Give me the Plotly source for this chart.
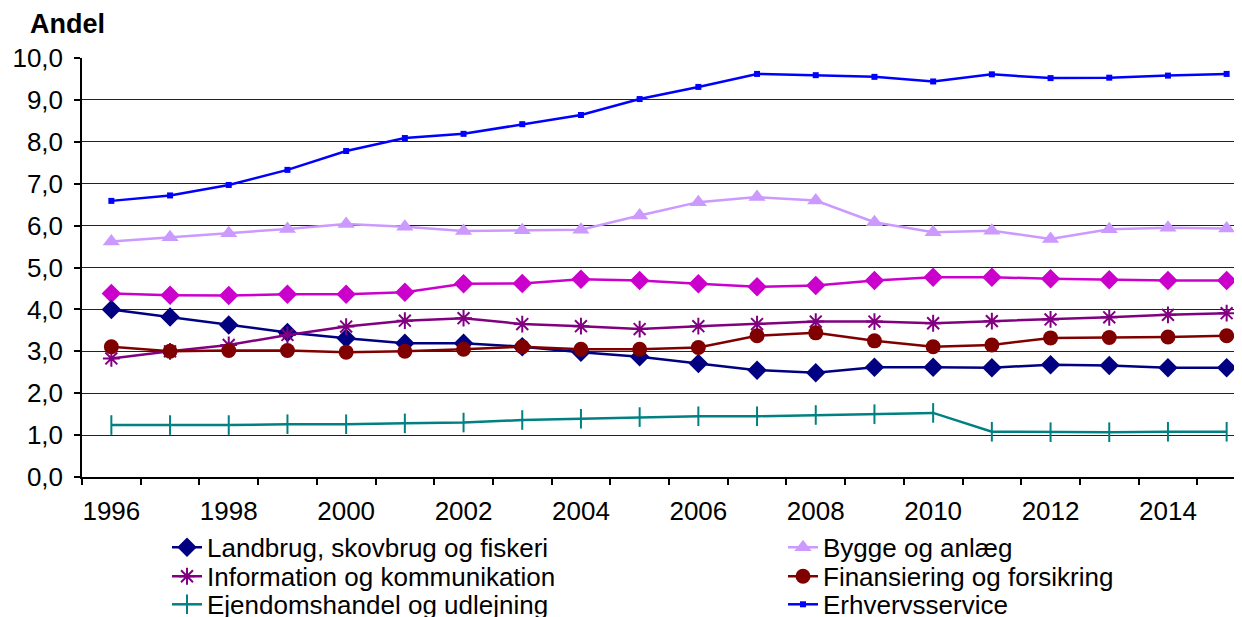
import plotly.graph_objects as go

years = list(range(1996, 2016))

landbrug = [4.00, 3.82, 3.63, 3.45, 3.31, 3.19, 3.19, 3.11, 2.98, 2.87,
            2.71, 2.55, 2.49, 2.62, 2.62, 2.61, 2.68, 2.66, 2.61, 2.61]
bygge = [5.62, 5.72, 5.82, 5.92, 6.04, 5.97, 5.87, 5.89, 5.90, 6.24,
         6.56, 6.68, 6.60, 6.08, 5.84, 5.88, 5.68, 5.91, 5.95, 5.93]
magenta_serie = [4.38, 4.34, 4.33, 4.36, 4.36, 4.41, 4.61, 4.62, 4.72, 4.69,
                 4.61, 4.54, 4.57, 4.69, 4.77, 4.77, 4.73, 4.71, 4.69, 4.69]
information = [2.83, 3.00, 3.15, 3.39, 3.59, 3.73, 3.79, 3.65, 3.60, 3.53,
               3.60, 3.65, 3.71, 3.71, 3.67, 3.72, 3.76, 3.81, 3.87, 3.91]
finansiering = [3.11, 3.00, 3.02, 3.02, 2.98, 3.00, 3.05, 3.11, 3.05, 3.05,
                3.09, 3.37, 3.44, 3.25, 3.11, 3.15, 3.32, 3.33, 3.34, 3.37]
ejendom = [1.24, 1.24, 1.24, 1.26, 1.26, 1.28, 1.30, 1.36, 1.39, 1.43,
           1.45, 1.45, 1.48, 1.50, 1.53, 1.08, 1.07, 1.07, 1.08, 1.08]
erhverv = [6.59, 6.72, 6.97, 7.33, 7.78, 8.09, 8.19, 8.42, 8.64, 9.02,
           9.31, 9.62, 9.59, 9.55, 9.44, 9.61, 9.52, 9.53, 9.58, 9.62]

x_ticks = [1996, 1998, 2000, 2002, 2004, 2006, 2008, 2010, 2012, 2014]
y_ticks = [0, 1, 2, 3, 4, 5, 6, 7, 8, 9, 10]

FONT = "Liberation Sans, Arial, sans-serif"

# The page body adds an 8px offset; figure sized so it ends at the window edge.
W, H = 1234, 609
L, T = 74, 50
PLOT_BOTTOM = 468.7
B = H - PLOT_BOTTOM
plot_w = W - L
plot_h = PLOT_BOTTOM - T

fig = go.Figure()

def add(name, y, color, symbol, size, legend, show=True, mlw=0, lw=2.5):
    fig.add_trace(go.Scatter(
        x=years, y=y, name=name, mode="lines+markers",
        line=dict(color=color, width=lw),
        marker=dict(symbol=symbol, size=size, color=color,
                    line=dict(color=color, width=mlw)),
        legend=legend, showlegend=show,
    ))

# hidden series (its legend entry is cut off in the original)
add("Serie", magenta_serie, "#CC00CC", "diamond", 15, "legend", show=False)
add("Landbrug, skovbrug og fiskeri", landbrug, "#000080", "diamond", 15, "legend")
add("Bygge og anlæg", bygge, "#CC99FF", "triangle-up", 15, "legend2")
add("Information og kommunikation", information, "#800080", "asterisk-open", 14, "legend3", mlw=2)
add("Finansiering og forsikring", finansiering, "#800000", "circle", 15, "legend4")
add("Ejendomshandel og udlejning", ejendom, "#008080", "line-ns-open", 14, "legend5", mlw=2)
add("Erhvervsservice", erhverv, "#0000FF", "square", 6, "legend6")

def row_y(px):
    return -(px - PLOT_BOTTOM) / plot_h

def col_x(px):
    return (px - L) / plot_w

leg_common = dict(orientation="h", xanchor="left", yanchor="middle",
                  font=dict(family=FONT, size=26, color="#000"),
                  bgcolor="rgba(0,0,0,0)", borderwidth=0)

rows = [539, 568, 596]
cols = [159, 775]

legends = {}
names = ["legend", "legend2", "legend3", "legend4", "legend5", "legend6"]
for i, nm in enumerate(names):
    legends[nm] = dict(leg_common, x=col_x(cols[i % 2]), y=row_y(rows[i // 2]))

fig.update_layout(
    width=W, height=H,
    margin=dict(l=L, r=0, t=T, b=B, pad=0, autoexpand=False),
    paper_bgcolor="white", plot_bgcolor="white",
    separators=",.",
    font=dict(family=FONT, size=26, color="#000"),
    showlegend=True,
    **legends,
    xaxis=dict(
        range=[1995.5, 1995.5 + plot_w / 58.7], tickmode="array", tickvals=x_ticks,
        ticks="", showgrid=False, zeroline=False,
        showline=True, linecolor="#000", linewidth=1.5,
        tickfont=dict(family=FONT, size=26, color="#000"),
        ticklabelstandoff=10,
        minor=dict(tick0=1995.5, dtick=1, ticks="outside", ticklen=6,
                   tickcolor="#000", tickwidth=1.5, showgrid=False),
    ),
    yaxis=dict(
        range=[0, 10], tickmode="array", tickvals=y_ticks, tickformat=".1f",
        ticks="outside", ticklen=6, tickcolor="#000", tickwidth=1.5,
        showgrid=True, gridcolor="#222", gridwidth=1.2, zeroline=False,
        showline=True, linecolor="#000", linewidth=1.5,
        tickfont=dict(family=FONT, size=26, color="#000"),
        ticklabelstandoff=6,
    ),
    annotations=[dict(
        text="<b>Andel</b>", xref="paper", yref="paper",
        x=col_x(20), y=1 + (T - 16) / plot_h,
        xanchor="left", yanchor="middle", showarrow=False,
        font=dict(family=FONT, size=27, color="#000"),
    )],
)

fig.write_html("out.html")
